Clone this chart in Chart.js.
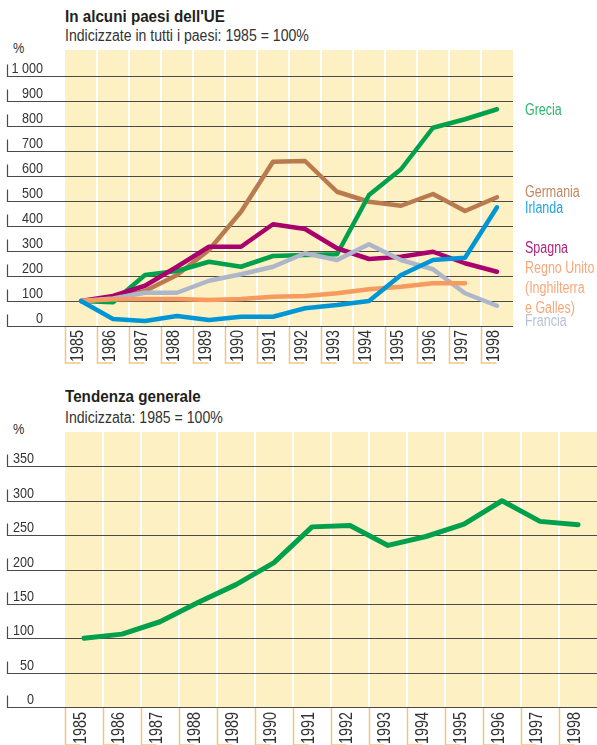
<!DOCTYPE html>
<html>
<head>
<meta charset="utf-8">
<script src="https://cdn.jsdelivr.net/npm/chart.js@4.4.0/dist/chart.umd.min.js"></script>
<style>
  html, body { margin: 0; padding: 0; background: #fff; }
  #page { position: relative; width: 597px; height: 745px; overflow: hidden; }
  .txt { position: absolute; left: 65px; white-space: nowrap; color: #231f20;
         font-family: "Liberation Sans", Arial, sans-serif; transform-origin: 0 0; }
  .title { font-weight: bold; font-size: 16px; line-height: 16px; transform: scaleX(0.95); }
  .sub { font-size: 16px; line-height: 16px; color: #333; transform: scaleX(0.88); }
  .pct { left: 13px; font-size: 15px; line-height: 15px; color: #333; transform: scaleX(0.85); }
  canvas { position: absolute; left: 0; }
</style>
</head>
<body>
<div id="page">
  <div class="txt title" style="top:9px">In alcuni paesi dell'UE</div>
  <div class="txt sub" style="top:28px">Indicizzate in tutti i paesi: 1985 = 100%</div>
  <div class="txt pct" style="top:40px">%</div>
  <canvas id="chart-paesi" width="597" height="375" style="top:0"></canvas>

  <div class="txt title" style="top:389px">Tendenza generale</div>
  <div class="txt sub" style="top:410px">Indicizzata: 1985 = 100%</div>
  <div class="txt pct" style="top:421px">%</div>
  <canvas id="chart-generale" width="597" height="370" style="top:375px"></canvas>
</div>

<script>
const years = ["1985", "1986", "1987", "1988", "1989", "1990", "1991",
               "1992", "1993", "1994", "1995", "1996", "1997", "1998"];

// indici, 1985 = 100
const grecia     = [100, 95, 204, 220, 257, 237, 280, 284, 287, 524, 627, 793, 827, 867];
const germania   = [100, 110, 140, 204, 304, 457, 657, 660, 537, 497, 481, 528, 460, 515];
const spagna     = [100, 120, 161, 237, 317, 317, 407, 388, 311, 268, 277, 297, 251, 217];
const francia    = [100, 110, 133, 133, 181, 207, 237, 291, 264, 327, 264, 227, 131, 81];
const irlanda    = [100, 28, 20, 40, 24, 37, 37, 71, 84, 100, 204, 264, 273, 475];
const regnoUnito = [100, 107, 108, 108, 104, 108, 117, 120, 131, 147, 157, 171, 171, null];
const generale   = [100, 106, 124, 152, 178, 210, 262, 264, 235, 248, 266, 300, 270, 265];

const paesiTicks = [0, 100, 200, 300, 400, 500, 600, 700, 800, 900, 1000];
const generaleTicks = [0, 50, 100, 150, 200, 250, 300, 350];

const FONT = '"Liberation Sans", Arial, sans-serif';

function fmt(v) {
  return v >= 1000 ? Math.floor(v / 1000) + " " + String(v % 1000).padStart(3, "0") : String(v);
}

// condensed text: squeeze along the writing direction
function narrowText(ctx, text, x, y, size, squeeze, align, angle) {
  ctx.save();
  ctx.translate(x, y);
  if (angle) ctx.rotate(angle);
  ctx.scale(squeeze, 1);
  ctx.font = size + "px " + FONT;
  ctx.textAlign = align;
  ctx.textBaseline = "alphabetic";
  ctx.fillText(text, 0, 0);
  ctx.restore();
}

// yellow columns, rules with labels, year boxes
const paper = {
  id: "paper",
  beforeDatasetsDraw(chart, args, o) {
    const { ctx, chartArea: a, scales: { x, y } } = chart;
    const step = x.getPixelForValue(1) - x.getPixelForValue(0);
    ctx.save();
    ctx.fillStyle = "#fdf0c2";
    ctx.fillRect(a.left, a.top, a.right - a.left, a.bottom - a.top);

    ctx.strokeStyle = "#ffffff";
    ctx.lineWidth = 2;
    for (let i = 1; i < years.length; i++) {
      const px = Math.round(x.getPixelForValue(i) - step / 2);
      ctx.beginPath();
      ctx.moveTo(px, a.top);
      ctx.lineTo(px, a.bottom);
      ctx.stroke();
    }

    o.ticks.forEach(function (v) {
      const py = Math.round(y.getPixelForValue(v)) + 0.5;
      ctx.strokeStyle = "#4a4a4a";
      ctx.lineWidth = 1.2;
      ctx.beginPath();
      ctx.moveTo(7.5, py - 12);
      ctx.lineTo(7.5, py);
      ctx.lineTo(a.right, py);
      ctx.stroke();
      ctx.fillStyle = "#333";
      narrowText(ctx, fmt(v), o.labelRight, py - 4, 15, 0.84, "right");
    });

    years.forEach(function (yr, i) {
      const left = Math.round(x.getPixelForValue(i) - step / 2) + 0.5;
      const bottom = a.bottom + o.boxHeight;
      ctx.strokeStyle = "#f4c47c";
      ctx.lineWidth = 1.5;
      ctx.beginPath();
      ctx.moveTo(left, a.bottom + 1);
      ctx.lineTo(left, bottom);
      ctx.lineTo(left + 15, bottom);
      ctx.stroke();
      ctx.fillStyle = "#333";
      narrowText(ctx, yr, left + o.yearShift, bottom - 1, 18, 0.8, "left", -Math.PI / 2);
    });
    ctx.restore();
  },
  afterDatasetsDraw(chart, args, o) {
    if (!o.names) return;
    const { ctx, scales: { y } } = chart;
    ctx.save();
    o.names.forEach(function (n) {
      ctx.fillStyle = n.color;
      narrowText(ctx, n.text, o.namesX, y.getPixelForValue(n.at), 16, 0.78, "left");
    });
    ctx.restore();
  }
};

function serie(label, data, color, width) {
  return {
    label: label,
    data: data,
    borderColor: color,
    backgroundColor: color,
    borderWidth: width,
    pointRadius: 0,
    tension: 0,
    borderCapStyle: "round",
    borderJoinStyle: "round",
    spanGaps: false
  };
}

function baseOptions(maxY, padding, extra) {
  return {
    responsive: false,
    animation: false,
    events: [],
    layout: { padding: padding },
    scales: {
      x: { type: "category", offset: true, display: false },
      y: { min: 0, max: maxY, display: false }
    },
    plugins: {
      legend: { display: false },
      tooltip: { enabled: false },
      paper: extra
    }
  };
}

new Chart(document.getElementById("chart-paesi"), {
  type: "line",
  data: {
    labels: years,
    datasets: [
      serie("Irlanda", irlanda, "#0096d6", 4.5),
      serie("Regno Unito", regnoUnito, "#f79a60", 4.5),
      serie("Francia", francia, "#aeb6ca", 4.5),
      serie("Spagna", spagna, "#a8006c", 4.5),
      serie("Grecia", grecia, "#00a04c", 4.5),
      serie("Germania", germania, "#b87a4e", 4.5)
    ]
  },
  options: baseOptions(1104, { left: 65, right: 84, top: 50, bottom: 49 }, {
    ticks: paesiTicks,
    labelRight: 43,
    boxHeight: 37,
    yearShift: 17,
    namesX: 525,
    names: [
      { text: "Grecia", color: "#2db56c", at: 844 },
      { text: "Germania", color: "#c08762", at: 516 },
      { text: "Irlanda", color: "#1fa3de", at: 452 },
      { text: "Spagna", color: "#b1227c", at: 292 },
      { text: "Regno Unito", color: "#f8a778", at: 212 },
      { text: "(Inghilterra", color: "#f8a778", at: 132 },
      { text: "e Galles)", color: "#f8a778", at: 52 },
      { text: "Francia", color: "#b8c0d2", at: 0 }
    ]
  }),
  plugins: [paper]
});

new Chart(document.getElementById("chart-generale"), {
  type: "line",
  data: {
    labels: years,
    datasets: [serie("Tendenza generale", generale, "#00a04c", 5)]
  },
  options: baseOptions(400, { left: 65, right: 0, top: 57, bottom: 38 }, {
    ticks: generaleTicks,
    labelRight: 34,
    boxHeight: 38,
    yearShift: 20
  }),
  plugins: [paper]
});
</script>
</body>
</html>
